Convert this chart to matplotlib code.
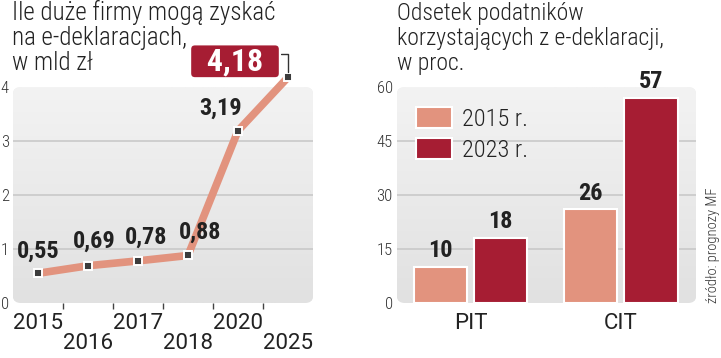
import numpy as np
import matplotlib
matplotlib.use("Agg")
import matplotlib.pyplot as plt
from matplotlib.patches import FancyBboxPatch, Patch

# dane - wykres liniowy
years = ["2015", "2016", "2017", "2018", "2020", "2025"]
gain = [0.55, 0.69, 0.78, 0.88, 3.19, 4.18]
gain_labels = ["0,55", "0,69", "0,78", "0,88", "3,19", "4,18"]
title_left = ["Ile duże firmy mogą zyskać", "na e-deklaracjach,", "w mld zł"]

# dane - wykres słupkowy
groups = ["PIT", "CIT"]
share_2015 = [10, 26]
share_2023 = [18, 57]
series_names = ["2015 r.", "2023 r."]
title_right = ["Odsetek podatników", "korzystających z e-deklaracji,", "w proc."]
source = "źródło: prognozy MF"

LIGHT = "#e2937e"
DARK = "#a61d33"
TXT = "#222222"
COND = "Roboto Condensed"

W, H = 721, 358
fig = plt.figure(figsize=(W / 100, H / 100), dpi=100)


def px_axes(x0, y0, x1, y1):
    return fig.add_axes([x0 / W, 1 - y1 / H, (x1 - x0) / W, (y1 - y0) / H])


def title(x0, lines, size):
    # kolejne linie tytułu, linie bazowe co ~25 px
    for k, line in enumerate(lines):
        fig.text(x0 / W, 1 - (20 + 25 * k) / H, line, ha="left", va="baseline",
                 fontsize=size, fontfamily=COND, fontweight=300, color=TXT)


def background(ax, yticks):
    box = FancyBboxPatch((0, 0), 1, 1, boxstyle="round,pad=0,rounding_size=0.03",
                         transform=ax.transAxes, fc="#ebebeb", ec="none", zorder=0)
    ax.add_patch(box)
    grad = np.linspace(0, 1, 100).reshape(-1, 1)
    im = ax.imshow(grad, cmap=matplotlib.colors.LinearSegmentedColormap.from_list("g", ["#f3f3f3", "#e1e1e1"]),
                   extent=[0, 1, 0, 1], transform=ax.transAxes, aspect="auto", zorder=0.5)
    im.set_clip_path(box)
    for y in yticks[1:-1]:
        ax.axhline(y, color="#c6c6c6", lw=1.1, zorder=1)
    for s in ax.spines.values():
        s.set_visible(False)
    ax.set_yticks(yticks)
    ax.tick_params(axis="y", length=0, pad=3, labelsize=12, labelcolor="#333333")
    for t in ax.get_yticklabels():
        t.set_fontfamily(COND)
        t.set_fontweight(300)


# ---- lewy panel ----
ax1 = px_axes(13, 87, 313, 303)
x = np.arange(len(years))
ax1.set_xlim(-0.5, len(years) - 0.5)
ax1.set_ylim(0, 4)
background(ax1, [0, 1, 2, 3, 4])

ax1.plot(x, gain, color=LIGHT, lw=5.5, solid_capstyle="butt", zorder=3, clip_on=False)
ax1.plot(x, gain, ls="none", marker="s", ms=5.5, mfc="#3c3c3c", mec="white", mew=1.4,
         zorder=4, clip_on=False)

offsets = [(0, 11), (6, 13), (8, 12), (12, 12), (-17, 11)]
for i in range(len(gain) - 1):
    ax1.annotate(gain_labels[i], (x[i], gain[i]), xytext=offsets[i], textcoords="offset pixels",
                 ha="center", va="bottom", fontsize=17.5, fontfamily=COND, fontweight="bold",
                 color=TXT, zorder=5)

ax1.annotate("  " + gain_labels[-1] + "  ", (x[-1], gain[-1]), xytext=(-53, 16),
             textcoords="offset pixels", ha="center", va="center", fontsize=23,
             fontfamily=COND, fontweight="bold", color="white", zorder=6, annotation_clip=False,
             bbox=dict(boxstyle="round,pad=0.06,rounding_size=0.15", fc=DARK, ec="white", lw=1.5),
             arrowprops=dict(arrowstyle="-", color="#333333", lw=1, relpos=(1, 0.74),
                             connectionstyle="angle,angleA=0,angleB=90,rad=0", shrinkA=0, shrinkB=4))

ax1.set_xticks(x)
ax1.set_xticklabels(years, fontsize=16, fontfamily="Roboto", color=TXT)
ax1.set_xticks(x[:-1] + 0.5, minor=True)
ax1.tick_params(axis="x", which="major", length=0)
ax1.tick_params(axis="x", which="minor", length=4, width=1, color="#444444", pad=2)
for i, t in enumerate(ax1.xaxis.get_major_ticks()):
    t.set_pad(7 if i % 2 == 0 else 21.5)

title(12, title_left, 18)

# ---- prawy panel ----
ax2 = px_axes(397, 87, 696, 303)
xg = np.arange(len(groups))
ax2.set_xlim(-0.49, 1.5)
ax2.set_ylim(0, 60)
background(ax2, [0, 15, 30, 45, 60])

bw = 0.355
b1 = ax2.bar(xg - 0.2, share_2015, bw, color=LIGHT, ec="white", lw=1.5, zorder=3, label=series_names[0])
b2 = ax2.bar(xg + 0.2, share_2023, bw, color=DARK, ec="white", lw=1.5, zorder=3, label=series_names[1])
for b in (b1, b2):
    ax2.bar_label(b, padding=3.5, fontsize=17.5, fontfamily=COND, fontweight="bold", color=TXT)

ax2.set_xticks(xg)
ax2.set_xticklabels(groups, fontsize=16, fontfamily="Roboto", color=TXT)
ax2.tick_params(axis="x", length=0, pad=7)

handles = [Patch(fc=LIGHT, ec="white", lw=1.5), Patch(fc=DARK, ec="white", lw=1.5)]
ax2.legend(handles, series_names, loc="upper left", bbox_to_anchor=(-0.01, 1.01), frameon=False,
           prop=dict(family=COND, weight=300, size=17.5), handlelength=1.5, handleheight=0.95,
           handletextpad=0.4, labelspacing=0.3, labelcolor=TXT)

title(397, title_right, 17)

fig.text(713 / W, 55 / H, source, rotation=90, ha="center", va="bottom",
         fontsize=10.5, fontfamily=COND, fontweight=300, color="#333333")

fig.savefig("out.png", dpi=100)
